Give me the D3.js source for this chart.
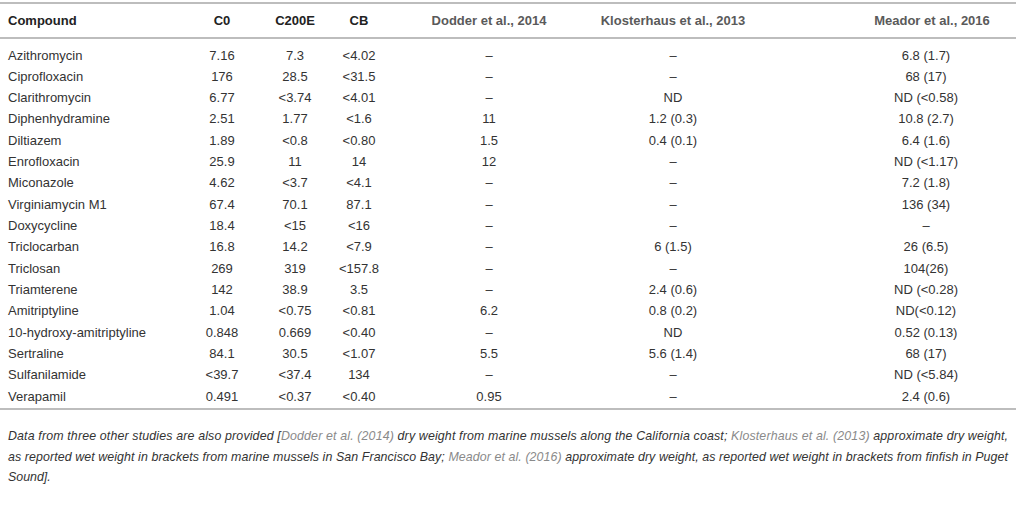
<!DOCTYPE html>
<html>
<head>
<meta charset="utf-8">
<script src="https://cdn.jsdelivr.net/npm/d3@7"></script>
<style>
  body { margin: 0; background: #fff; }
  svg { display: block; font-family: "Liberation Sans", Arial, sans-serif; }
</style>
</head>
<body>
<div class="chart"></div>
<script>
const width = 1016;
const height = 514;

// DATA //
const headers = ["Compound", "C0", "C200E", "CB", "Dodder et al., 2014", "Klosterhaus et al., 2013", "Meador et al., 2016"];
const compounds = ["Azithromycin", "Ciprofloxacin", "Clarithromycin", "Diphenhydramine", "Diltiazem", "Enrofloxacin",
  "Miconazole", "Virginiamycin M1", "Doxycycline", "Triclocarban", "Triclosan", "Triamterene", "Amitriptyline",
  "10-hydroxy-amitriptyline", "Sertraline", "Sulfanilamide", "Verapamil"];
const c0 = ["7.16", "176", "6.77", "2.51", "1.89", "25.9", "4.62", "67.4", "18.4", "16.8", "269", "142", "1.04", "0.848", "84.1", "<39.7", "0.491"];
const c200e = ["7.3", "28.5", "<3.74", "1.77", "<0.8", "11", "<3.7", "70.1", "<15", "14.2", "319", "38.9", "<0.75", "0.669", "30.5", "<37.4", "<0.37"];
const cb = ["<4.02", "<31.5", "<4.01", "<1.6", "<0.80", "14", "<4.1", "87.1", "<16", "<7.9", "<157.8", "3.5", "<0.81", "<0.40", "<1.07", "134", "<0.40"];
const dodder = ["–", "–", "–", "11", "1.5", "12", "–", "–", "–", "–", "–", "–", "6.2", "–", "5.5", "–", "0.95"];
const klosterhaus = ["–", "–", "ND", "1.2 (0.3)", "0.4 (0.1)", "–", "–", "–", "–", "6 (1.5)", "–", "2.4 (0.6)", "0.8 (0.2)", "ND", "5.6 (1.4)", "–", "–"];
const meador = ["6.8 (1.7)", "68 (17)", "ND (<0.58)", "10.8 (2.7)", "6.4 (1.6)", "ND (<1.17)", "7.2 (1.8)", "136 (34)", "–", "26 (6.5)", "104(26)", "ND (<0.28)", "ND(<0.12)", "0.52 (0.13)", "68 (17)", "ND (<5.84)", "2.4 (0.6)"];
// footnote pieces: [text, is citation]
const footnote = [
  [["Data from three other studies are also provided [", false], ["Dodder et al. (2014)", true], [" dry weight from marine mussels along the California coast; ", false], ["Klosterhaus et al. (2013)", true], [" approximate dry weight,", false]],
  [["as reported wet weight in brackets from marine mussels in San Francisco Bay; ", false], ["Meador et al. (2016)", true], [" approximate dry weight, as reported wet weight in brackets from finfish in Puget", false]],
  [["Sound].", false]]
];

const columns = [compounds, c0, c200e, cb, dodder, klosterhaus, meador];

// SVG //
const svg = d3.select(".chart")
  .append("svg")
  .attr("width", width)
  .attr("height", height)
  .attr("viewBox", [0, 0, width, height]);

// column centres (first column left aligned)
const x = d3.scaleOrdinal()
  .domain(d3.range(headers.length))
  .range([8, 222, 295, 359, 489, 673, 926]);

// row positions
const y = d3.scalePoint()
  .domain(d3.range(compounds.length))
  .range([55, 396]);

const ruleColor = "#bdbdbd";
[3, 38, 409].forEach(yy => {
  svg.append("line")
    .attr("x1", 0).attr("x2", width)
    .attr("y1", yy).attr("y2", yy)
    .attr("stroke", ruleColor)
    .attr("stroke-width", 2);
});

// header
svg.append("g")
  .selectAll("text")
  .data(headers)
  .join("text")
  .attr("x", (d, i) => i === 6 ? x(i) + 6 : x(i))
  .attr("y", 20)
  .attr("dy", "0.35em")
  .attr("text-anchor", (d, i) => i === 0 ? "start" : "middle")
  .attr("font-size", 13)
  .attr("font-weight", "bold")
  .attr("fill", (d, i) => i < 4 ? "#222" : "#5a5a5a")
  .text(d => d);

// body
const cols = svg.append("g")
  .selectAll("g")
  .data(columns)
  .join("g");

cols.selectAll("text")
  .data((d, i) => d.map(v => ({v, i})))
  .join("text")
  .attr("x", d => x(d.i))
  .attr("y", (d, r) => y(r))
  .attr("dy", "0.35em")
  .attr("text-anchor", d => d.i === 0 ? "start" : "middle")
  .attr("font-size", 13)
  .attr("fill", "#333")
  .text(d => d.v);

// footnote (justified lines, last line left)
const fy = d3.scalePoint().domain(d3.range(footnote.length)).range([436, 477]);
footnote.forEach((line, li) => {
  const t = svg.append("text")
    .attr("x", 8)
    .attr("y", fy(li))
    .attr("dy", "0.35em")
    .attr("font-size", 12.4)
    .attr("font-style", "italic")
    .attr("fill", "#333");
  if (li < footnote.length - 1) {
    t.attr("textLength", 1000).attr("lengthAdjust", "spacing");
  }
  t.selectAll("tspan")
    .data(line)
    .join("tspan")
    .attr("fill", d => d[1] ? "#8a8a8a" : "#333")
    .text(d => d[0]);
});
</script>
</body>
</html>
